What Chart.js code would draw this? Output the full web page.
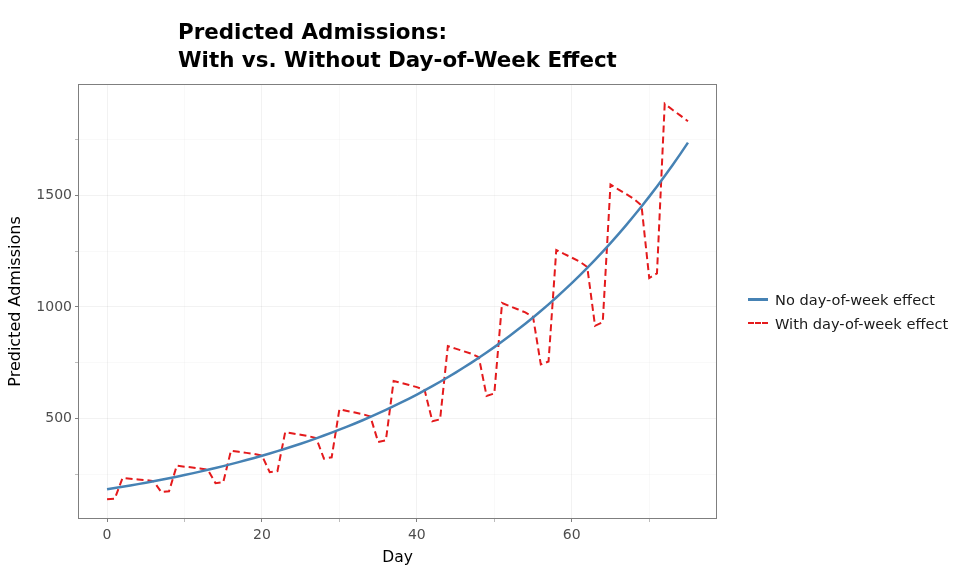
<!DOCTYPE html>
<html>
<head>
<meta charset="utf-8">
<script src="https://cdn.jsdelivr.net/npm/chart.js@4.4.1/dist/chart.umd.min.js"></script>
<style>
  html, body { margin: 0; padding: 0; background: #fff; }
  #wrap { position: relative; width: 960px; height: 576px; }
  #title {
    position: absolute; left: 178px; top: 18px;
    font-family: "DejaVu Sans", sans-serif; font-weight: bold; font-size: 21.4px;
    line-height: 28px; color: #000;
  }
  #legend {
    position: absolute; left: 748px; top: 287px;
    font-family: "DejaVu Sans", sans-serif; font-size: 14.6px; color: #1a1a1a;
  }
  .item { height: 24px; display: flex; align-items: center; }
  .key { width: 20px; height: 0; margin-right: 7px; }
</style>
</head>
<body>
<div id="wrap">
  <canvas id="myChart" width="960" height="576"></canvas>
  <div id="title">Predicted Admissions:<br>With vs. Without Day-of-Week Effect</div>
  <div id="legend">
    <div class="item"><span class="key" style="border-top: 3px solid #4682b4;"></span>No day-of-week effect</div>
    <div class="item"><span class="key" style="border-top: 2px dashed #e41a1c;"></span>With day-of-week effect</div>
  </div>
</div>
<script>
const days = [0, 1, 2, 3, 4, 5, 6, 7, 8, 9, 10, 11, 12, 13, 14, 15, 16, 17, 18, 19,
  20, 21, 22, 23, 24, 25, 26, 27, 28, 29, 30, 31, 32, 33, 34, 35, 36, 37, 38, 39,
  40, 41, 42, 43, 44, 45, 46, 47, 48, 49, 50, 51, 52, 53, 54, 55, 56, 57, 58, 59,
  60, 61, 62, 63, 64, 65, 66, 67, 68, 69, 70, 71, 72, 73, 74, 75];

// no day-of-week effect (smooth curve)
const noEffect = [183, 188.6, 194.3, 200.2, 206.3, 212.6, 219.1, 225.8, 232.6, 239.7,
  247.0, 254.5, 262.3, 270.3, 278.5, 287.0, 295.7, 304.7, 314.0, 323.6,
  333.4, 343.6, 354.1, 364.8, 376.0, 387.4, 399.2, 411.4, 423.9, 436.8,
  450.1, 463.8, 477.9, 492.5, 507.5, 523.0, 538.9, 555.3, 572.2, 589.6,
  607.6, 626.1, 645.1, 664.8, 685.0, 705.9, 727.4, 749.6, 772.4, 795.9,
  820.1, 845.1, 870.9, 897.4, 924.7, 952.9, 981.9, 1011.8, 1042.6, 1074.4,
  1107.1, 1140.8, 1175.5, 1211.3, 1248.2, 1286.2, 1325.4, 1365.8, 1407.4, 1450.2,
  1494.4, 1539.9, 1586.8, 1635.1, 1684.9, 1736.3];

// with day-of-week effect (weekly pattern)
const withEffect = [138.3, 140.9, 233.9, 230.6, 227.5, 224.3, 219.8, 170.7, 173.8, 288.6,
  284.5, 280.7, 276.7, 271.1, 210.5, 214.4, 356.0, 351.0, 346.3, 341.4,
  334.4, 259.8, 264.5, 439.2, 433.2, 427.3, 421.2, 412.6, 320.5, 326.3,
  541.9, 534.3, 527.1, 519.6, 509.0, 395.4, 402.6, 668.6, 659.2, 650.3,
  641.0, 628.0, 487.7, 496.6, 824.7, 813.2, 802.3, 790.8, 774.7, 601.7,
  612.6, 1017.5, 1003.3, 989.8, 975.6, 955.8, 742.3, 755.8, 1255.3, 1237.7,
  1221.1, 1203.5, 1179.0, 915.7, 932.4, 1548.6, 1526.9, 1506.5, 1484.8, 1454.5,
  1129.8, 1150.3, 1910.5, 1883.6, 1858.4, 1831.8];

const xTicks = [0, 10, 20, 30, 40, 50, 60, 70];
const xLabels = [0, 20, 40, 60];
const yTicks = [250, 500, 750, 1000, 1250, 1500, 1750];
const yLabels = [500, 1000, 1500];

function pts(ys) {
  return days.map((d, i) => ({ x: d, y: ys[i] }));
}

const panelBorder = {
  id: 'panelBorder',
  afterDraw(chart) {
    const a = chart.chartArea, c = chart.ctx;
    c.save();
    c.strokeStyle = '#7f7f7f';
    c.lineWidth = 1;
    c.strokeRect(a.left + 0.5, a.top + 0.5, a.right - a.left - 1, a.bottom - a.top - 1);
    c.restore();
  }
};

var ctx = document.getElementById('myChart').getContext('2d');
const myChart = new Chart(ctx, {
  type: 'line',
  data: {
    datasets: [{
      label: 'No day-of-week effect',
      data: pts(noEffect),
      borderColor: '#4682b4',
      borderWidth: 2.5,
      pointRadius: 0,
      tension: 0
    }, {
      label: 'With day-of-week effect',
      data: pts(withEffect),
      borderColor: '#e41a1c',
      borderWidth: 2,
      borderDash: [7, 4],
      pointRadius: 0,
      tension: 0
    }]
  },
  options: {
    responsive: false,
    animation: false,
    layout: { padding: { left: 0, top: 84, right: 243, bottom: 0 } },
    plugins: { legend: { display: false }, tooltip: { enabled: false } },
    scales: {
      x: {
        type: 'linear',
        min: -3.75,
        max: 78.75,
        afterBuildTicks: s => { s.ticks = xTicks.map(v => ({ value: v })); },
        afterFit: s => { s.height = 57; },
        ticks: {
          autoSkip: false,
          maxRotation: 0,
          padding: 5,
          color: '#4d4d4d',
          font: { family: 'DejaVu Sans', size: 14 },
          callback: v => xLabels.includes(v) ? String(v) : ''
        },
        grid: {
          color: c => xLabels.includes(c.tick && c.tick.value) ? 'rgba(0,0,0,0.05)' : 'rgba(0,0,0,0.025)',
          tickColor: c => xLabels.includes(c.tick && c.tick.value) ? '#7f7f7f' : '#bdbdbd',
          tickLength: 3
        },
        border: { display: false },
        title: {
          display: true,
          text: 'Day',
          color: '#000',
          font: { family: 'DejaVu Sans', size: 15.5 },
          padding: { top: 9, bottom: 9 }
        }
      },
      y: {
        type: 'linear',
        min: 50,
        max: 1999,
        afterBuildTicks: s => { s.ticks = yTicks.map(v => ({ value: v })); },
        afterFit: s => { s.width = 78; },
        ticks: {
          autoSkip: false,
          padding: 3,
          color: '#4d4d4d',
          font: { family: 'DejaVu Sans', size: 14 },
          callback: v => yLabels.includes(v) ? String(v) : ''
        },
        grid: {
          color: c => yLabels.includes(c.tick && c.tick.value) ? 'rgba(0,0,0,0.05)' : 'rgba(0,0,0,0.025)',
          tickColor: c => yLabels.includes(c.tick && c.tick.value) ? '#7f7f7f' : '#bdbdbd',
          tickLength: 3
        },
        border: { display: false },
        title: {
          display: true,
          text: 'Predicted Admissions',
          color: '#000',
          font: { family: 'DejaVu Sans', size: 16 },
          padding: { top: 6, bottom: 6 }
        }
      }
    }
  },
  plugins: [panelBorder]
});
</script>
</body>
</html>
